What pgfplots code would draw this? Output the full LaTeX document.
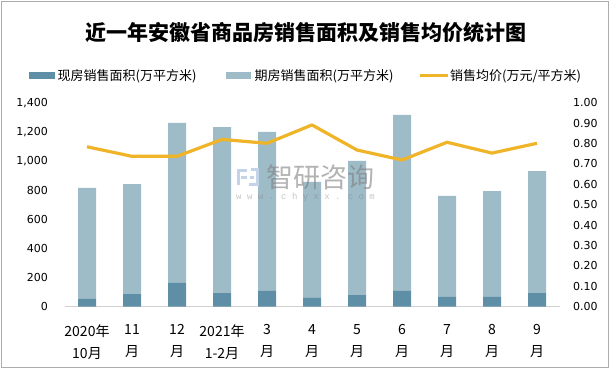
\documentclass[border=0pt]{standalone}
\usepackage{pgfplots}
\pgfplotsset{compat=1.18}
\usepackage{fontspec}
\setmainfont{DejaVu Sans}
\newfontfamily\cjk{Noto Sans CJK SC}
\newfontfamily\wmono{Liberation Mono}
\definecolor{darkbar}{HTML}{5E8FA6}
\definecolor{lightbar}{HTML}{9EBBC8}
\definecolor{linec}{HTML}{F0B429}
\definecolor{axgray}{HTML}{D0D0D0}
\definecolor{logoc}{HTML}{C3D3E8}
\begin{document}
\begin{tikzpicture}[x=1pt,y=1pt]
\useasboundingbox (0,0) rectangle (610,369);
\draw[gray!65, line width=0.8pt] (1.5,1.5) rectangle (608.5,367.5);
\node[font=\cjk\bfseries\fontsize{21}{21}\selectfont] at (306,336) {近一年安徽省商品房销售面积及销售均价统计图};
% legend
\fill[darkbar] (29,289.5) rectangle (55,296.5);
\node[anchor=west, inner sep=0pt, font=\cjk\fontsize{13}{13}\selectfont] at (57.5,293) {现房销售面积(万平方米)};
\fill[lightbar] (226,289.5) rectangle (251,296.5);
\node[anchor=west, inner sep=0pt, font=\cjk\fontsize{13}{13}\selectfont] at (254.5,293) {期房销售面积(万平方米)};
\draw[linec, line width=3pt] (420,293) -- (448,293);
\node[anchor=west, inner sep=0pt, font=\cjk\fontsize{13}{13}\selectfont] at (450,293) {销售均价(万元/平方米)};

\begin{axis}[
  at={(64.5pt,62.3pt)}, anchor=south west, scale only axis,
  width=495pt, height=204pt,
  xmin=-0.5, xmax=10.5, ymin=0, ymax=1400,
  ybar stacked, bar width=18pt,
  axis x line*=bottom, axis y line*=left,
  x axis line style={draw=axgray, line width=0.8pt},
  y axis line style={draw=none},
  major tick length=0pt,
  xtick={0,1,2,3,4,5,6,7,8,9,10},
  xticklabels={{2020年\\10月},{11\\月},{12\\月},{2021年\\1-2月},{3\\月},{4\\月},{5\\月},{6\\月},{7\\月},{8\\月},{9\\月}},
  xticklabel style={align=center, font=\cjk\fontsize{14}{22.5}\selectfont, yshift=-14pt},
  ytick={0,200,400,600,800,1000,1200,1400},
  yticklabel style={font=\fontsize{11}{11}\selectfont, xshift=-13pt},
  /pgf/number format/assume math mode=true,
  /pgf/number format/1000 sep={,},
  clip=false,
]
\addplot[fill=darkbar, draw=none] coordinates {(0,53) (1,87) (2,163) (3,94) (4,108) (5,60) (6,80) (7,108) (8,67) (9,67) (10,94)};
\addplot[fill=lightbar, draw=none] coordinates {(0,762) (1,755) (2,1098) (3,1139) (4,1091) (5,796) (6,920) (7,1208) (8,693) (9,727) (10,837)};
\end{axis}

\begin{axis}[
  at={(64.5pt,62.3pt)}, anchor=south west, scale only axis,
  width=495pt, height=204pt,
  xmin=-0.5, xmax=10.5, ymin=0, ymax=1,
  axis x line=none, axis y line*=right,
  y axis line style={draw=none},
  major tick length=0pt,
  ytick={0,0.1,0.2,0.3,0.4,0.5,0.6,0.7,0.8,0.9,1.0},
  yticklabel style={font=\fontsize{11}{11}\selectfont, xshift=10pt, /pgf/number format/.cd, fixed, fixed zerofill, precision=2},
  /pgf/number format/assume math mode=true,
  clip=false,
]
\addplot[linec, line width=3.2pt, line join=round, no markers] coordinates {(0,0.784) (1,0.737) (2,0.737) (3,0.820) (4,0.801) (5,0.891) (6,0.768) (7,0.719) (8,0.806) (9,0.753) (10,0.801)};
\end{axis}

% watermark
\node[text=gray, opacity=0.6, font=\cjk\fontsize{27}{27}\selectfont, anchor=west, inner sep=0pt] at (266,192) {智研咨询};
\node[text=gray, opacity=0.45, font=\wmono\fontsize{9}{9}\selectfont, anchor=west, inner sep=0pt] at (236,172) {w w w . c h y x x . c o m};
\draw[logoc, line width=3pt] (247,198) -- (238.5,198) -- (238.5,184);
\draw[logoc, line width=3pt] (241,191) -- (247,191);
\draw[logoc, line width=3pt] (251,199) -- (257,199) -- (257,184) -- (249,184);
\draw[logoc, line width=3pt] (250,191.5) -- (254,191.5);
\end{tikzpicture}
\end{document}
